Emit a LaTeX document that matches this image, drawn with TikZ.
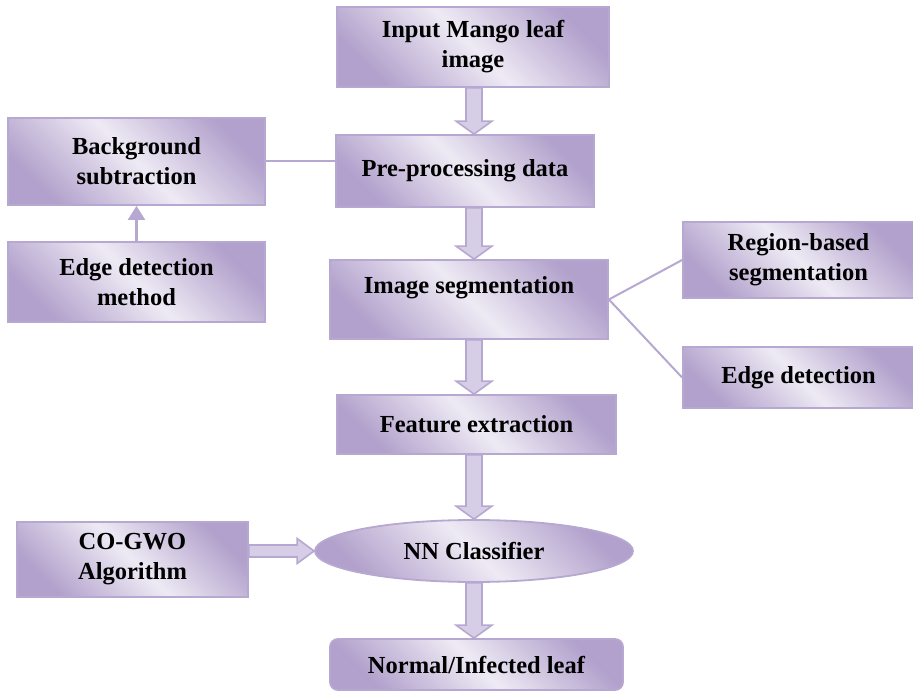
\documentclass[tikz,border=0pt]{standalone}
\usepackage{fontspec}
\setmainfont{Liberation Serif}
\usetikzlibrary{shapes.geometric, arrows.meta, calc}

\definecolor{boxline}{RGB}{182,168,208}
\definecolor{boxdark}{RGB}{178,161,204}
\definecolor{boxlight}{RGB}{238,234,244}
\definecolor{arrowfill}{RGB}{214,205,230}

\begin{document}
\begin{tikzpicture}[
	x=1pt, y=-1pt,
	font=\bfseries\fontsize{24.5}{30}\selectfont,
	box/.style={
		rectangle, draw=boxline, line width=1.8pt,
		top color=boxdark, bottom color=boxdark, middle color=boxlight,
		shading angle=-45, align=center, inner sep=0pt
	},
	oval/.style={box, ellipse},
	link/.style={draw=boxline, line width=2pt},
	up/.style={link, line width=2.2pt, -{Triangle[width=17pt, length=14pt]}},
	fat/.style n args={3}{
		draw=boxline, line width=1.6pt, fill=arrowfill, line join=miter,
		to path={
			let \p1=($(\tikztotarget)!#3!(\tikztostart)$) in
			-- ($(\tikztostart)!#1!90:(\tikztotarget)$)
			-- ($(\p1)!#1!90:(\tikztotarget)$)
			-- ($(\p1)!#2!90:(\tikztotarget)$)
			-- (\tikztotarget)
			-- ($(\p1)!#2!-90:(\tikztotarget)$)
			-- ($(\p1)!#1!-90:(\tikztotarget)$)
			-- ($(\tikztostart)!#1!-90:(\tikztotarget)$)
			-- cycle
		}
	}
	]
	
	\useasboundingbox (0,0) rectangle (913,692);
	
	% Main column
	\node[box, minimum width=272pt, minimum height=80pt] (inp) at (473,47) {Input Mango leaf\\image};
	\node[box, minimum width=258pt, minimum height=72pt] (pre) at (465,171) {Pre-processing data};
	\node[box, minimum width=278pt, minimum height=79pt, text depth=29pt] (seg) at (469,299.5) {Image segmentation};
	\node[box, minimum width=279pt, minimum height=59pt] (fex) at (476.5,424.5) {Feature extraction};
	\node[oval, minimum width=318pt, minimum height=62pt] (ell) at (474,551) {NN Classifier};
	\node[box, rounded corners=8pt, minimum width=293pt, minimum height=51pt] (out) at (476.5,664.5) {Normal/Infected leaf};
	
	% Left branch
	\node[box, minimum width=257pt, minimum height=87pt] (bgs) at (136.5,161.5) {Background\\subtraction};
	\node[box, minimum width=257pt, minimum height=80pt] (edm) at (136.5,282) {Edge detection\\method};
	\node[box, minimum width=231pt, minimum height=75pt] (cog) at (132.5,559.5) {CO-GWO\\Algorithm};
	
	% Right branch
	\node[box, minimum width=231pt, minimum height=76pt] (rbs) at (798.5,260) {Region-based\\segmentation};
	\node[box, minimum width=231pt, minimum height=61pt] (edg) at (798.5,377.5) {Edge detection};
	
	% Connectors
	\draw[up] (edm.north) -- (bgs.south);
	\draw[link] (bgs.east) -- (bgs.east -| pre.west);
	\draw[link] (seg.east) -- (rbs.west);
	\draw[link] (seg.east) -- (edg.west);
	
	% Block arrows
	\draw[fat={8pt}{18pt}{13pt}] (inp.south -| ell.center) to (pre.north -| ell.center);
	\draw[fat={8pt}{18pt}{13pt}] (pre.south -| ell.center) to (seg.north -| ell.center);
	\draw[fat={8pt}{18pt}{13pt}] (seg.south -| ell.center) to (fex.north -| ell.center);
	\draw[fat={8pt}{18pt}{13pt}] (fex.south -| ell.center) to (ell.north);
	\draw[fat={8pt}{18pt}{13pt}] (ell.south) to (out.north -| ell.center);
	\draw[fat={6pt}{12.5pt}{17pt}] (cog.east |- ell.center) to (ell.west);
	
\end{tikzpicture}
\end{document}
